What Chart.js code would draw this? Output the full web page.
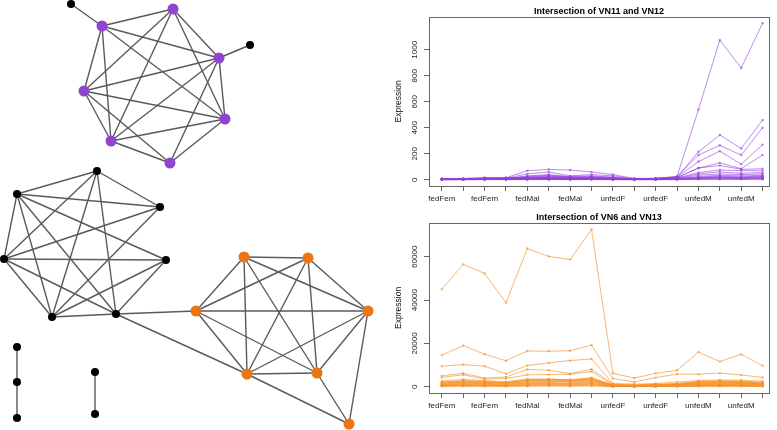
<!DOCTYPE html>
<html lang="en">
<head>
    <meta charset="UTF-8">
    <title>Co-expression modules - VN intersections</title>
    <script src="https://cdn.jsdelivr.net/npm/chart.js"></script>
    <style>
        body { margin: 0; background: #fff; }
        .panel { position: absolute; }
    </style>
</head>
<body>
    <!-- network on the left, two profile plots on the right -->
    <div class="panel" style="left:0;top:0;width:380px;height:430px"><canvas id="network"></canvas></div>
    <div class="panel" style="left:380px;top:0;width:397px;height:205px"><canvas id="vn11"></canvas></div>
    <div class="panel" style="left:380px;top:205px;width:397px;height:225px"><canvas id="vn6"></canvas></div>

    <script>
        // ---- network layout (node positions from the drawn layout) ----
        const nodeX = [102, 173, 219, 225, 170, 111, 84, 71, 250,
                       97, 17, 160, 4, 166, 52, 116,
                       244, 308, 196, 368, 247, 317, 349,
                       17, 17, 17, 95, 95];
        const nodeY = [26, 9, 58, 119, 163, 141, 91, 4, 45,
                       171, 194, 207, 259, 260, 317, 314,
                       257, 258, 311, 311, 374, 373, 424,
                       347, 382, 418, 372, 414];
        // 1 = VN11/VN12 module, 2 = VN6/VN13 module, 0 = other genes
        const nodeGroup = [1, 1, 1, 1, 1, 1, 1, 0, 0,
                           0, 0, 0, 0, 0, 0, 0,
                           2, 2, 2, 2, 2, 2, 2,
                           0, 0, 0, 0, 0];
        const edges = [
            [0,1],[0,2],[0,3],[0,5],[0,6],[1,2],[1,3],[1,5],[1,6],[2,3],[2,4],[2,5],[2,6],
            [3,4],[3,5],[3,6],[4,5],[4,6],[5,6],[7,0],[8,2],
            [9,10],[9,11],[9,12],[9,14],[9,15],[10,11],[10,12],[10,13],[10,14],[10,15],
            [11,12],[11,14],[12,13],[12,14],[12,15],[13,14],[13,15],[14,15],
            [15,18],[15,20],
            [16,17],[16,18],[16,19],[16,20],[16,21],[17,18],[17,19],[17,20],[17,21],
            [18,19],[18,20],[18,21],[19,20],[19,21],[19,22],[20,21],[20,22],[21,22],
            [23,24],[24,25],[26,27]
        ];

        // ---- expression profiles ----
        const samples = ['fedFem', 'fedFem', 'fedFem', 'fedFem', 'fedMal', 'fedMal', 'fedMal', 'fedMal',
                         'unfedF', 'unfedF', 'unfedF', 'unfedF', 'unfedM', 'unfedM', 'unfedM', 'unfedM'];

        const vn11Ticks = [0, 200, 400, 600, 800, 1000];
        const vn11Genes = [
            [10, 10, 15, 15, 20, 25, 20, 15, 12, 8, 10, 25, 540, 1075, 860, 1205],
            [5, 8, 12, 14, 15, 20, 15, 18, 10, 5, 8, 20, 215, 345, 240, 460],
            [6, 6, 10, 12, 10, 15, 12, 10, 8, 6, 10, 25, 190, 265, 190, 400],
            [4, 5, 8, 10, 8, 12, 10, 8, 6, 5, 8, 20, 140, 220, 120, 270],
            [3, 4, 6, 8, 12, 18, 12, 10, 6, 4, 6, 15, 90, 130, 85, 190],
            [8, 10, 15, 15, 70, 80, 75, 60, 40, 10, 12, 18, 90, 110, 80, 85],
            [5, 6, 12, 12, 45, 60, 30, 40, 30, 8, 10, 14, 55, 75, 70, 70],
            [4, 5, 10, 10, 30, 40, 25, 30, 20, 6, 8, 12, 45, 60, 50, 55],
            [3, 4, 8, 8, 20, 30, 20, 20, 15, 5, 6, 10, 35, 45, 40, 45],
            [2, 3, 6, 6, 15, 20, 15, 15, 10, 4, 5, 8, 25, 35, 30, 35],
            [2, 2, 4, 4, 8, 10, 6, 8, 5, 3, 4, 6, 15, 22, 18, 25],
            [1, 2, 3, 3, 5, 6, 5, 6, 4, 2, 3, 5, 12, 18, 14, 18],
            [5, 5, 8, 8, 10, 12, 8, 10, 6, 4, 5, 8, 10, 12, 10, 12],
            [1, 1, 2, 2, 3, 4, 3, 3, 2, 1, 2, 3, 8, 10, 8, 10],
            [0, 1, 1, 1, 2, 2, 2, 2, 1, 1, 1, 2, 5, 6, 5, 6],
            [3, 3, 5, 5, 6, 8, 6, 6, 4, 3, 4, 5, 20, 28, 22, 30],
            [2, 3, 4, 4, 25, 35, 20, 25, 18, 4, 5, 7, 15, 20, 16, 22],
            [1, 1, 2, 2, 1, 2, 1, 2, 1, 1, 1, 1, 3, 4, 3, 4]
        ];

        const vn6Ticks = [0, 20000, 40000, 60000];
        const vn6Genes = [
            [45000, 56500, 52300, 38800, 63800, 60200, 58700, 72700, 6200, 4000, 6200, 7600, 16000, 11600, 15000, 9700],
            [14600, 19000, 15000, 12000, 16500, 16400, 16600, 19200, 3800, 2200, 4200, 5800, 5800, 6300, 5400, 4300],
            [9500, 10200, 9500, 6000, 9800, 11000, 12100, 12800, 1500, 1200, 1500, 2200, 2800, 3100, 3000, 2500],
            [5000, 6200, 4000, 4500, 8000, 7600, 6000, 8100, 1200, 800, 1200, 1500, 2500, 2800, 2600, 2000],
            [4300, 5500, 3500, 3800, 5500, 5600, 5800, 7000, 900, 600, 900, 1200, 2000, 2300, 2100, 1600],
            [2000, 2800, 2400, 1800, 3200, 3600, 3000, 4000, 700, 500, 800, 1000, 1700, 1900, 1800, 1300],
            [2600, 3400, 2800, 2300, 3600, 3400, 3300, 4200, 900, 700, 1000, 1300, 2200, 2500, 2300, 1900],
            [1800, 2400, 2100, 1700, 2900, 3100, 2700, 3600, 600, 400, 600, 900, 1500, 1700, 1600, 1200],
            [1500, 2000, 1800, 1500, 2500, 2800, 2400, 3200, 500, 300, 500, 700, 1300, 1500, 1400, 1000],
            [1000, 1500, 1200, 1000, 1800, 2000, 1700, 2500, 400, 200, 400, 600, 900, 1100, 1000, 800],
            [800, 1100, 900, 700, 1400, 1500, 1300, 1800, 300, 150, 300, 400, 700, 800, 700, 600],
            [500, 700, 600, 500, 900, 1000, 800, 1200, 200, 100, 200, 300, 500, 600, 500, 400],
            [300, 400, 350, 300, 500, 600, 500, 700, 100, 80, 120, 200, 300, 350, 300, 250],
            [150, 200, 180, 150, 250, 300, 250, 350, 60, 40, 60, 100, 150, 180, 150, 120],
            [2200, 2600, 2500, 2000, 3000, 3300, 2900, 3400, 800, 600, 900, 1100, 1900, 2100, 2000, 1500],
            [1200, 1700, 1500, 1300, 2200, 2400, 2100, 2800, 450, 250, 450, 650, 1100, 1300, 1200, 900],
            [650, 900, 800, 650, 1100, 1250, 1050, 1500, 250, 120, 250, 350, 600, 700, 600, 500],
            [1700, 2100, 1900, 1600, 2700, 2500, 2600, 3000, 700, 500, 700, 1000, 1800, 2000, 1800, 1400],
            [1100, 1300, 1300, 1100, 1600, 1700, 1500, 2100, 350, 200, 350, 500, 800, 900, 850, 700],
            [400, 550, 500, 400, 700, 800, 650, 950, 150, 90, 150, 250, 400, 450, 400, 300]
        ];

        const FONT = 'Liberation Sans, Arial, Helvetica, sans-serif';
        const groupColor = ['#000000', '#8f45cf', '#ea7513'];

        // ---- network ----
        const edgeSets = edges.map(([a, b]) => ({
            type: 'scatter',
            showLine: true,
            data: [{ x: nodeX[a], y: nodeY[a] }, { x: nodeX[b], y: nodeY[b] }],
            borderColor: '#5a5a5a',
            borderWidth: 1.4,
            pointRadius: 0,
            clip: false,
            order: 2
        }));

        new Chart(document.getElementById('network'), {
            type: 'scatter',
            data: {
                datasets: [{
                    data: nodeX.map((x, i) => ({ x: x, y: nodeY[i] })),
                    pointRadius: nodeGroup.map(g => g ? 5.5 : 4),
                    pointBackgroundColor: nodeGroup.map(g => groupColor[g]),
                    pointBorderWidth: 0,
                    clip: false,
                    order: 1
                }, ...edgeSets]
            },
            options: {
                animation: false,
                responsive: true,
                maintainAspectRatio: false,
                layout: { padding: 0, autoPadding: false },
                plugins: { legend: { display: false }, tooltip: { enabled: false } },
                scales: {
                    x: { display: false, min: 0, max: 380 },
                    y: { display: false, min: 0, max: 430, reverse: true }
                }
            }
        });

        // ---- profile plots ----
        const boxPlugin = {
            id: 'box',
            afterDatasetsDraw(chart) {
                const a = chart.chartArea, c = chart.ctx;
                c.save();
                c.strokeStyle = '#666';
                c.lineWidth = 1;
                c.strokeRect(Math.round(a.left) + 0.5, Math.round(a.top) + 0.5,
                    Math.round(a.right - a.left), Math.round(a.bottom - a.top));
                c.restore();
            }
        };

        function profileChart(id, title, genes, color, yTicks, yMin, yMax, titleH, xAxisH, yPad) {
            return new Chart(document.getElementById(id), {
                type: 'line',
                data: {
                    datasets: genes.map(vals => ({
                        data: vals.map((v, i) => ({ x: i, y: v })),
                        borderColor: color,
                        backgroundColor: color,
                        borderWidth: 1,
                        pointRadius: 1.2,
                        pointBorderWidth: 0,
                        tension: 0
                    }))
                },
                options: {
                    animation: false,
                    responsive: true,
                    maintainAspectRatio: false,
                    layout: { padding: { right: 8, left: 0, top: 0, bottom: 0 }, autoPadding: false },
                    plugins: {
                        legend: { display: false },
                        tooltip: { enabled: false },
                        title: {
                            display: true,
                            text: title,
                            fullSize: false,
                            color: '#000',
                            font: { family: FONT, size: 9, weight: 'bold', lineHeight: 1.2 },
                            padding: { top: titleH - 11, bottom: 0 }
                        }
                    },
                    scales: {
                        x: {
                            type: 'linear',
                            min: -0.6,
                            max: 15.3,
                            afterBuildTicks: s => { s.ticks = samples.map((_, i) => ({ value: i })); },
                            afterFit: s => { s.height = xAxisH; },
                            grid: { drawOnChartArea: false, tickLength: 5, color: '#666' },
                            border: { display: false },
                            ticks: {
                                autoSkip: false,
                                maxRotation: 0,
                                padding: 3,
                                color: '#222',
                                font: { family: FONT, size: 8 },
                                callback: v => (v % 2 === 0 ? samples[v] : '')
                            }
                        },
                        y: {
                            min: yMin,
                            max: yMax,
                            afterBuildTicks: s => { s.ticks = yTicks.map(v => ({ value: v })); },
                            afterFit: s => { s.width = 49; },
                            grid: { drawOnChartArea: false, tickLength: 5, color: '#666' },
                            border: { display: false },
                            title: {
                                display: true,
                                text: 'Expression',
                                color: '#111',
                                font: { family: FONT, size: 8.5 },
                                padding: { top: 14, bottom: 0 }
                            },
                            ticks: {
                                minRotation: 90,
                                maxRotation: 90,
                                crossAlign: 'center',
                                padding: yPad,
                                color: '#222',
                                font: { family: FONT, size: 8 },
                                callback: v => String(v)
                            }
                        }
                    }
                },
                plugins: [boxPlugin]
            });
        }

        profileChart('vn11', 'Intersection of VN11 and VN12', vn11Genes,
            'rgba(146, 62, 218, 0.6)', vn11Ticks, -48, 1254, 17, 19, 0);
        profileChart('vn6', 'Intersection of VN6 and VN13', vn6Genes,
            'rgba(244, 146, 40, 0.65)', vn6Ticks, -2900, 75700, 18, 37, -2);
    </script>
</body>
</html>
